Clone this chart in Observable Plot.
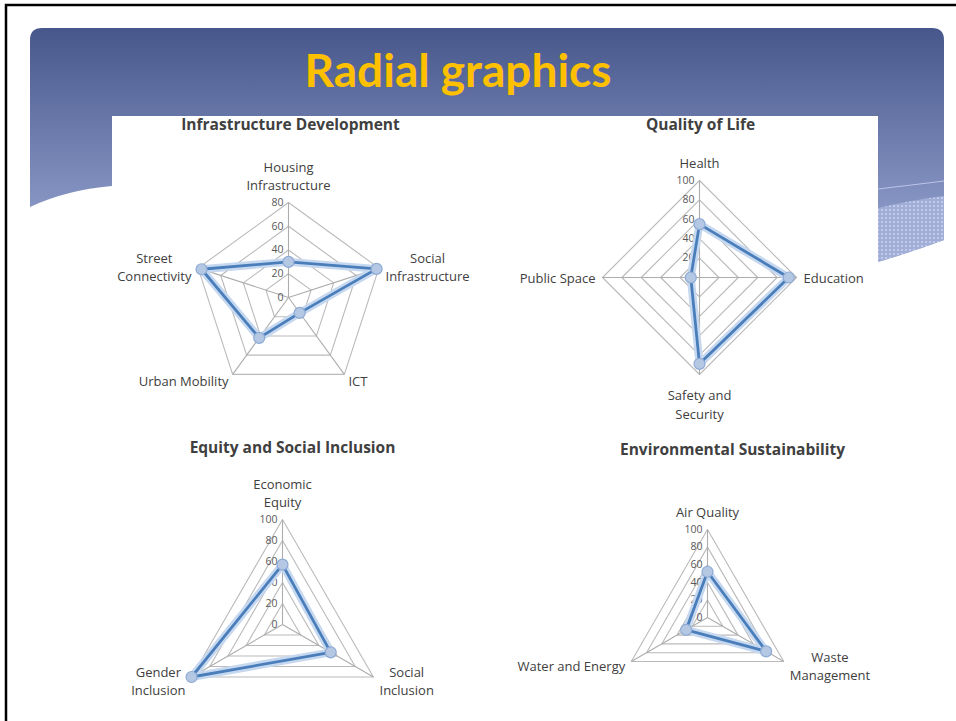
<!DOCTYPE html>
<html>
<head>
<meta charset="utf-8">
<script src="https://cdn.jsdelivr.net/npm/d3@7"></script>
<script src="https://cdn.jsdelivr.net/npm/@observablehq/plot@0.6"></script>
<style>
html, body { margin: 0; padding: 0; background: #fff; overflow: hidden; }
#page { position: relative; width: 956px; height: 721px; }
#bg { position: absolute; left: 0; top: 0; }
#title { position: absolute; left: 0; top: 47px; width: 916px; text-align: center;
  font: bold 46px Lato, sans-serif; line-height: 46px; color: #FFC000; }
#chart { position: absolute; left: 0; top: 0; }
</style>
</head>
<body>
<div id="page">
<svg id="bg" width="956" height="721" viewBox="0 0 956 721">
  <defs>
    <linearGradient id="hg" x1="0" y1="28" x2="0" y2="262" gradientUnits="userSpaceOnUse">
      <stop offset="0" stop-color="#47578b"/>
      <stop offset="1" stop-color="#9aa8d4"/>
    </linearGradient>
    <pattern id="dots" width="4" height="4" patternUnits="userSpaceOnUse">
      <rect width="4" height="4" fill="#a1aed8"/>
      <rect x="1" y="1" width="2" height="2" fill="#c3cbe8"/>
    </pattern>
  </defs>
  <rect width="956" height="721" fill="#fff"/>
  <path d="M30,40 Q30,28 42,28 L932,28 Q944,28 944,40 L944,240 Q912,252 878,262 L112,262 L112,186 Q66,190 30,207 Z" fill="url(#hg)"/>
  <path d="M878,208 Q912,200 944,196 L944,240 Q912,252 878,262 Z" fill="url(#dots)"/>
  <path d="M878,189 Q912,185 944,181" stroke="#bcc5e6" stroke-width="1" fill="none"/>
  <rect x="112" y="116" width="766" height="605" fill="#fff"/>
  <path d="M958,5 H6 V723" stroke="#000" stroke-width="2.5" fill="none"/>
</svg>
<div id="title">Radial graphics</div>
<div id="chart"></div>
</div>
<script>
// ---------- data ----------
const infraTitle = "Infrastructure Development";
const infraAxes = ["Housing\nInfrastructure", "Social\nInfrastructure", "ICT", "Urban Mobility", "Street\nConnectivity"];
const infraValues = [30, 78, 16, 42, 77];
const infraTicks = [0, 20, 40, 60, 80];

const qolTitle = "Quality of Life";
const qolAxes = ["Health", "Education", "Safety and\nSecurity", "Public Space"];
const qolValues = [55, 92, 89, 9];
const qolTicks = [0, 20, 40, 60, 80, 100];

const equityTitle = "Equity and Social Inclusion";
const equityAxes = ["Economic\nEquity", "Social\nInclusion", "Gender\nInclusion"];
const equityValues = [57, 53, 100];
const equityTicks = [0, 20, 40, 60, 80, 100];

const envTitle = "Environmental Sustainability";
const envAxes = ["Air Quality", "Waste\nManagement", "Water and Energy"];
const envValues = [52, 77, 28];
const envTicks = [0, 20, 40, 60, 80, 100];

// ---------- layout ----------
const charts = [
  {title: infraTitle, axes: infraAxes, values: infraValues, ticks: infraTicks, cx: 288, cy: 297, R: 95, tx: 290, ty: 125},
  {title: qolTitle, axes: qolAxes, values: qolValues, ticks: qolTicks, cx: 699, cy: 277, R: 97, tx: 700, ty: 125},
  {title: equityTitle, axes: equityAxes, values: equityValues, ticks: equityTicks, cx: 282, cy: 624, R: 105, tx: 292, ty: 448},
  {title: envTitle, axes: envAxes, values: envValues, ticks: envTicks, cx: 707, cy: 617, R: 88, tx: 732, ty: 450}
];

const FONT = "'Open Sans', sans-serif";
const LABEL_FONT = 13, LINE_H = 1.4;
const ctx = document.createElement("canvas").getContext("2d");
ctx.font = LABEL_FONT + "px 'Open Sans'";

const grid = [], spokes = [], tickLabels = [], labels = [], series = [], titles = [];
charts.forEach((c, ci) => {
  const n = c.axes.length, max = c.ticks[c.ticks.length - 1];
  const ang = i => 2 * Math.PI * i / n;
  const px = (i, r) => c.cx + c.R * r * Math.sin(ang(i));
  const py = (i, r) => c.cy - c.R * r * Math.cos(ang(i));
  c.ticks.slice(1).forEach(t => {
    for (let i = 0; i < n; i++) grid.push({g: ci + "-" + t, x: px(i, t / max), y: py(i, t / max)});
  });
  c.ticks.forEach(t => tickLabels.push({x: c.cx, y: py(0, t / max), text: String(t)}));
  c.axes.forEach((a, i) => {
    const vx = px(i, 1), vy = py(i, 1);
    spokes.push({x1: c.cx, y1: c.cy, x2: vx, y2: vy});
    const s = Math.sin(ang(i)), co = Math.cos(ang(i));
    const lines = a.split("\n");
    const w = Math.max(...lines.map(l => ctx.measureText(l).width));
    const h = lines.length * LABEL_FONT * LINE_H;
    let x, y;
    if (co > 0.9) { x = vx; y = vy - 9 - h / 2; }
    else if (co < -0.9) { x = vx; y = vy + 11 + h / 2; }
    else {
      const off = 7;
      x = vx + off * s + Math.sign(s) * w / 2;
      y = vy - off * co;
    }
    labels.push({x, y, text: a});
  });
  c.values.forEach((v, i) => series.push({g: ci, x: px(i, v / max), y: py(i, v / max)}));
  titles.push({x: c.tx, y: c.ty, text: c.title});
});

const plot = Plot.plot({
  width: 956, height: 721, margin: 0,
  x: {domain: [0, 956], range: [0, 956], axis: null},
  y: {domain: [0, 721], range: [0, 721], axis: null},
  style: {background: "transparent", fontFamily: FONT},
  marks: [
    Plot.line(grid, {x: "x", y: "y", z: "g", curve: "linear-closed", stroke: "#bababa", strokeWidth: 1.1}),
    Plot.link(spokes, {x1: "x1", y1: "y1", x2: "x2", y2: "y2", stroke: "#adadad", strokeWidth: 1.1}),
    Plot.text(tickLabels, {x: "x", y: "y", text: "text", textAnchor: "end", dx: -5, fontSize: 10.5, fill: "#595959", fontFamily: FONT}),
    Plot.line(series, {x: "x", y: "y", z: "g", curve: "linear-closed", stroke: "#c6d8ef", strokeWidth: 8, strokeLinejoin: "round"}),
    Plot.line(series, {x: "x", y: "y", z: "g", curve: "linear-closed", stroke: "#4a7ebb", strokeWidth: 2.8, strokeLinejoin: "round"}),
    Plot.dot(series, {x: "x", y: "y", r: 5.5, fill: "#b4c8e4", stroke: "#8eaad4", strokeWidth: 1.2}),
    Plot.text(labels, {x: "x", y: "y", text: "text", fontSize: LABEL_FONT, lineHeight: LINE_H, fill: "#404040", fontFamily: FONT}),
    Plot.text(titles, {x: "x", y: "y", text: "text", fontSize: 15.5, fontWeight: "bold", fill: "#404040", fontFamily: FONT})
  ]
});
document.getElementById("chart").appendChild(plot);
</script>
</body>
</html>
